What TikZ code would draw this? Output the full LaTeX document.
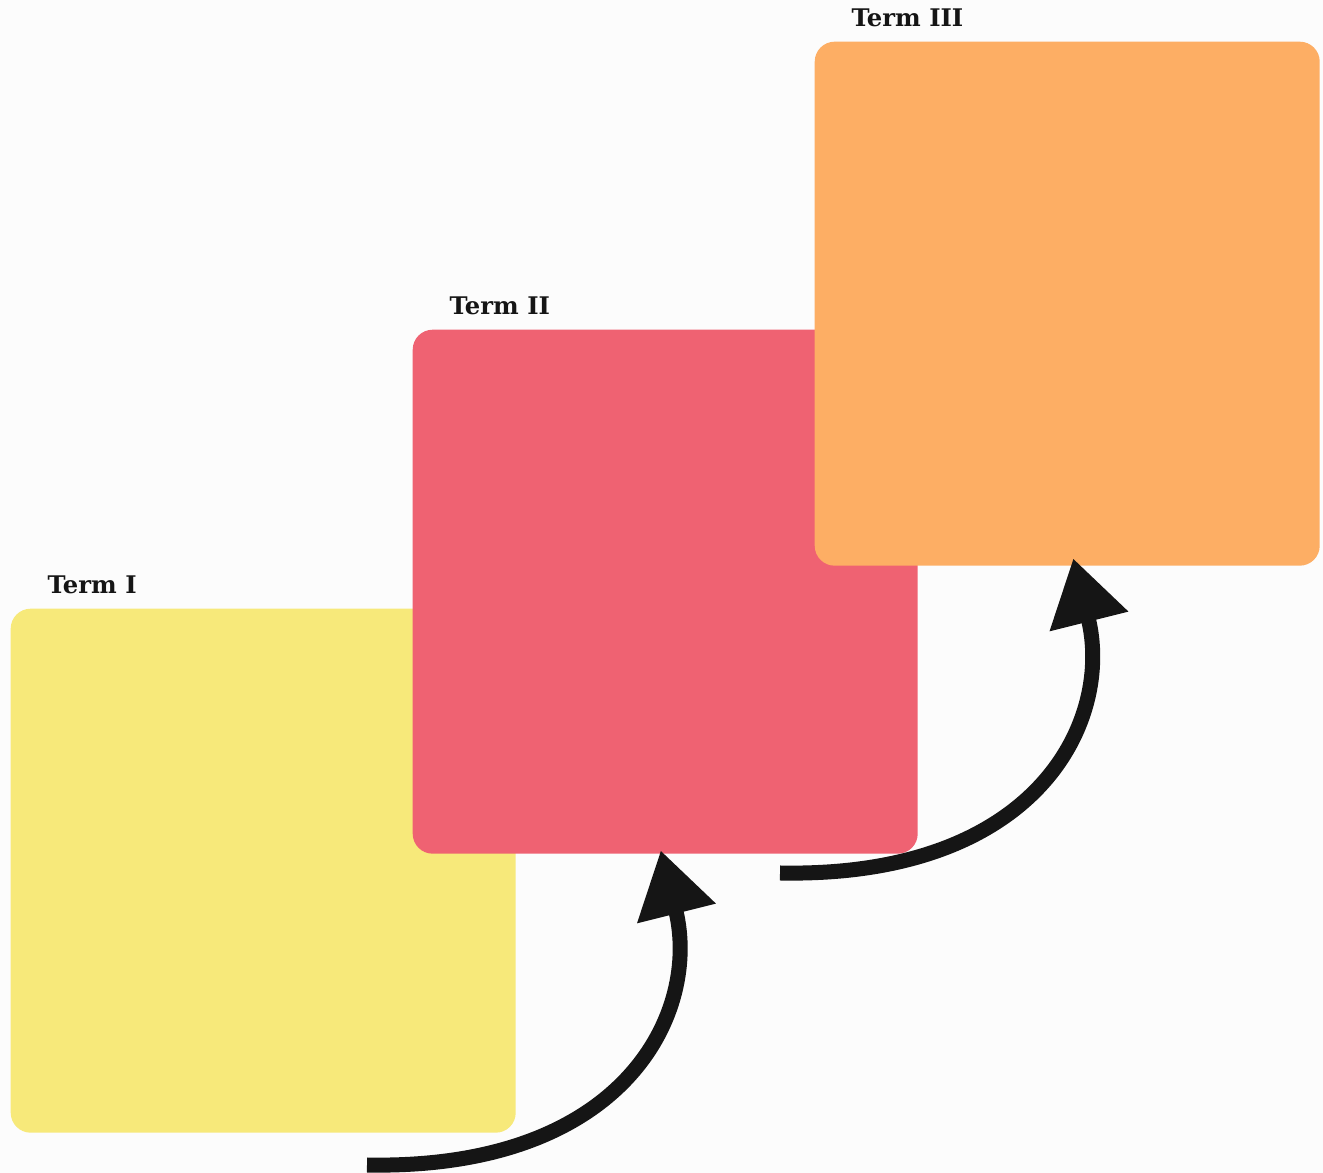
\documentclass[tikz,border=0pt]{standalone}
\usepackage{fontspec}
\usepackage{tikz}
\usetikzlibrary{positioning,arrows.meta}
\newfontfamily\termfont{DejaVu Serif}
\definecolor{termyellow}{HTML}{F7E97A}
\definecolor{termred}{HTML}{EF6272}
\definecolor{termorange}{HTML}{FDAE64}
\definecolor{arrowblack}{HTML}{151515}

\begin{document}
\begin{tikzpicture}[
	termbox/.style={rectangle, rounded corners=0.2cm, minimum width=5.05cm, minimum height=5.24cm, inner sep=0pt},
	termlabel/.style={inner sep=0pt, font=\termfont\bfseries\fontsize{6.9}{8}\selectfont, text=arrowblack},
	bigarrow/.style={line width=0.15cm, draw=arrowblack, -{Triangle[length=0.65cm, width=0.77cm]}}]
	\fill[black!1] (0,0) rectangle (13.23,11.73);
	\useasboundingbox (0,0) rectangle (13.23,11.73);
	\node[termbox, fill=termyellow, anchor=north west] (termI) at (0.10,5.65) {};
	\node[termbox, fill=termred, anchor=north west] (termII) at (4.12,8.44) {};
	\node[termbox, fill=termorange, anchor=north west] (termIII) at (8.14,11.32) {};
	\node[termlabel, above right=0.13cm and 0.37cm of termI.north west] (labI) {Term I};
	\node[termlabel, above right=0.13cm and 0.37cm of termII.north west] (labII) {Term II};
	\node[termlabel, above right=0.13cm and 0.37cm of termIII.north west] (labIII) {Term III};
	\coordinate (startI) at (3.67,0.08);
	\coordinate (startII) at (7.80,3.00);
	\draw[bigarrow] (startI) .. controls +(2.6,-0.05) and +(0.40,-1.6) .. ([shift={(-0.045,0.04)}]termII.south);
	\draw[bigarrow] (startII) .. controls +(2.6,-0.05) and +(0.40,-1.6) .. ([shift={(0.06,0.08)}]termIII.south);
\end{tikzpicture}
\end{document}
